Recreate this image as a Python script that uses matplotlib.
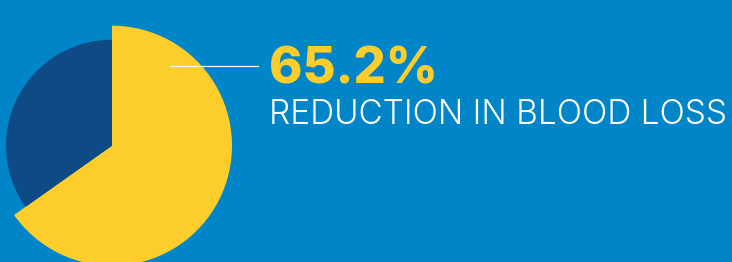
import matplotlib.pyplot as plt

share = [65.2, 34.8]
headline = "65.2%"
caption = "REDUCTION IN BLOOD LOSS"

bg = "#0086c8"
yellow = "#fdce2b"
navy = "#0e4b86"

W, H = 732, 262
fig = plt.figure(figsize=(W / 100, H / 100), dpi=100, facecolor=bg)
ax = fig.add_axes([0, 0, 1, 1])
ax.set_facecolor(bg)

cx, cy = 112, H - 145.7
# yellow slice drawn larger than the remainder
ax.pie(share, colors=[yellow, "none"], radius=120, center=(cx, cy),
       startangle=90, counterclock=False, wedgeprops={"linewidth": 0})
ax.pie(share, colors=["none", navy], radius=106, center=(cx, cy),
       startangle=90, counterclock=False, wedgeprops={"linewidth": 0})

ax.plot([170, 258], [H - 65.7, H - 65.7], color="white", lw=0.9)

ax.text(269, H - 84, headline, color=yellow, fontsize=36.5, fontweight="heavy",
        family="Inter", va="baseline", ha="left")
ax.text(269, H - 124.3, caption, color="white", fontsize=24, fontweight=300,
        family="Inter", va="baseline", ha="left")

ax.set_xlim(0, W)
ax.set_ylim(0, H)
ax.axis("off")

fig.savefig("out.png", dpi=100, facecolor=bg)
